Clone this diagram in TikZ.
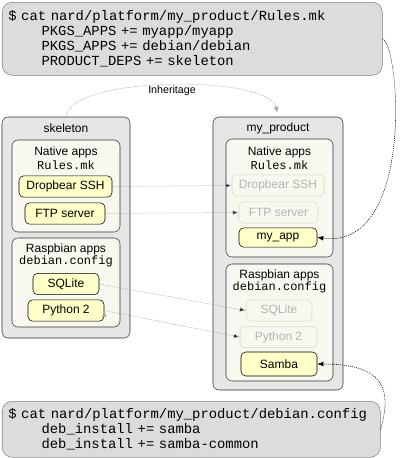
\documentclass[tikz,border=0pt]{standalone}
\usepackage{fontspec}
\setmainfont{Liberation Sans}
\setmonofont{Liberation Mono}
\usetikzlibrary{arrows.meta,fit}
\definecolor{cmdfill}{HTML}{DCDCDC}
\definecolor{cmdline}{HTML}{808080}
\definecolor{pkgfill}{HTML}{E6E6E6}
\definecolor{pkgline}{HTML}{303030}
\definecolor{grpfill}{HTML}{F8F8F0}
\definecolor{appfill}{HTML}{FFFFC8}
\definecolor{ghostline}{HTML}{D8D8C4}
\definecolor{ghosttext}{HTML}{B4B4B4}
\definecolor{linkgray}{HTML}{A8A8A8}
\tikzset{
  cmdbox/.style={draw=cmdline, fill=cmdfill, rounded corners=7.5pt, anchor=north west, align=left, inner xsep=4.5pt, font=\ttfamily\fontsize{10.4}{11.25}\selectfont},
  pkgbox/.style={draw=pkgline, fill=pkgfill, rounded corners=4.5pt, inner sep=0pt},
  grpbox/.style={draw=pkgline, fill=grpfill, rounded corners=4.5pt, inner sep=0pt},
  appbox/.style={draw=black, fill=appfill, rounded corners=3.5pt, minimum height=16pt, inner sep=0pt, font=\fontsize{9}{10}\selectfont},
  ghostbox/.style={appbox, draw=ghostline, fill=grpfill, text=ghosttext},
  boxtitle/.style={font=\fontsize{9}{10}\selectfont, inner sep=0pt},
  cfgtitle/.style={font=\ttfamily\fontsize{9}{10}\selectfont, inner sep=0pt},
  inheritlink/.style={draw=linkgray, dash pattern=on 0.75pt off 0.75pt, -{Latex[length=4.5pt,width=3.5pt]}},
  cmdlink/.style={draw=black, dash pattern=on 0.75pt off 0.75pt, -{Latex[length=4.5pt,width=3.5pt]}}
}
\begin{document}
\begin{tikzpicture}[x=0.75pt, y=-0.75pt]
  \useasboundingbox (0,0) rectangle (407,458);
  % command boxes
  \node[cmdbox, minimum width=285pt, minimum height=54.75pt, text width=276pt] (rulescmd) at (2,2)
    {\$ cat nard/platform/my\_product/Rules.mk\\
     \hspace*{2.4em}PKGS\_APPS += myapp/myapp\\
     \hspace*{2.4em}PKGS\_APPS += debian/debian\\
     \hspace*{2.4em}PRODUCT\_DEPS += skeleton};
  \node[cmdbox, minimum width=283.5pt, minimum height=42pt, text width=274.5pt] (debcmd) at (2,401)
    {\$ cat nard/platform/my\_product/debian.config\\
     \hspace*{2.4em}deb\_install += samba\\
     \hspace*{2.4em}deb\_install += samba-common};
  % skeleton
  \node[pkgbox, fit={(2,117) (130,338)}] (skeleton) {};
  \node[boxtitle] (skeletontitle) at (66,128) {skeleton};
  \node[grpbox, fit={(12,140) (120,232)}] (sknative) {};
  \node[boxtitle] (sknativetitle) at (66,152) {Native apps};
  \node[cfgtitle] (sknativecfg) at (66,165) {Rules.mk};
  \node[appbox, minimum width=69.75pt] (skdropbear) at (65.5,186.5) {Dropbear SSH};
  \node[appbox, minimum width=60pt] (skftp) at (65,213.5) {FTP server};
  \node[grpbox, fit={(12,238) (120,327)}] (skdebian) {};
  \node[boxtitle] (skdebiantitle) at (66,249) {Raspbian apps};
  \node[cfgtitle] (skdebiancfg) at (66,261) {debian.config};
  \node[appbox, minimum width=49.5pt] (sksqlite) at (66,284) {SQLite};
  \node[appbox, minimum width=57pt] (skpython) at (66,310.5) {Python 2};
  % my_product
  \node[pkgbox, fit={(213,117) (343,390)}] (product) {};
  \node[boxtitle] (producttitle) at (278,128) {my\_product};
  \node[grpbox, fit={(226,139) (333,257)}] (prnative) {};
  \node[boxtitle] (prnativetitle) at (279.5,152) {Native apps};
  \node[cfgtitle] (prnativecfg) at (279.5,165) {Rules.mk};
  \node[ghostbox, minimum width=69pt] (prdropbear) at (278,185.5) {Dropbear SSH};
  \node[ghostbox, minimum width=59.25pt] (prftp) at (278.5,212.5) {FTP server};
  \node[appbox, minimum width=58.5pt, minimum height=14.5pt] (myapp) at (278,237.5) {my\_app};
  \node[grpbox, fit={(226,264) (333,381)}] (prdebian) {};
  \node[boxtitle] (prdebiantitle) at (279.5,275) {Raspbian apps};
  \node[cfgtitle] (prdebiancfg) at (279.5,287) {debian.config};
  \node[ghostbox, minimum width=49.5pt] (prsqlite) at (279,310.5) {SQLite};
  \node[ghostbox, minimum width=57.75pt] (prpython) at (278.5,337) {Python 2};
  \node[appbox, minimum width=57pt, minimum height=18pt] (samba) at (279,364) {Samba};
  % links
  \draw[inheritlink, shorten >=3pt] (skeleton.north) .. controls (70,75) and (270,75) .. (product.north);
  \node[boxtitle, font=\fontsize{8}{9}\selectfont] (inheritlabel) at (172,91) {Inheritage};
  \path[inheritlink] (skdropbear.east) edge (prdropbear.west)
    (skftp.east) edge (prftp.west)
    (sksqlite.east) edge (prsqlite.west)
    (skpython.east) edge (prpython.west);
  \draw[cmdlink] (rulescmd.east) .. controls (400,45) and (415,250) .. (myapp.east);
  \draw[cmdlink] (debcmd.east) .. controls (392,390) and (385,364) .. (samba.east);
\end{tikzpicture}
\end{document}
